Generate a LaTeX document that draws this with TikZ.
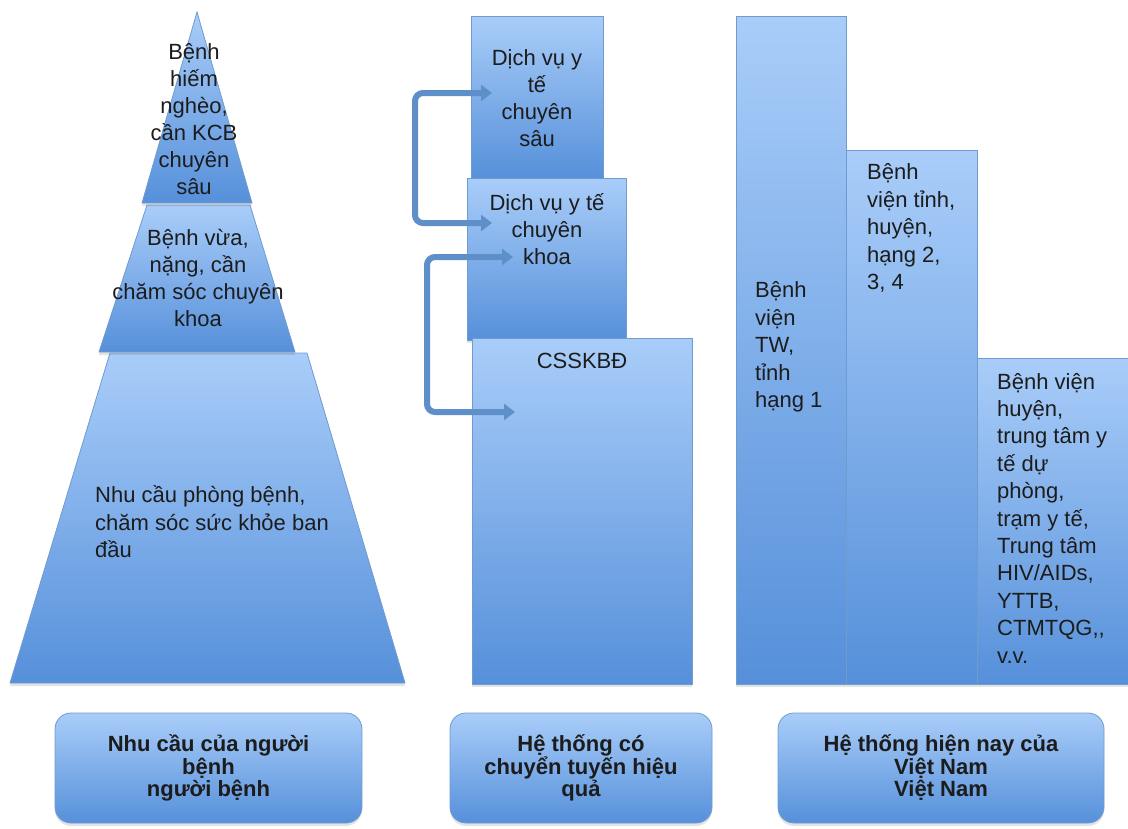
\documentclass[tikz,border=0pt]{standalone}
\usepackage{fontspec}
\setmainfont{Liberation Sans}
\usetikzlibrary{arrows.meta,shadows}
\definecolor{lt}{HTML}{A9CDF9}
\definecolor{dk}{HTML}{5690DA}
\definecolor{edgec}{HTML}{6F9BCF}
\definecolor{txt}{HTML}{1C1C1C}
\definecolor{arr}{HTML}{5E8FC8}
\tikzset{
  shade box/.style={top color=lt, bottom color=dk, draw=edgec, line width=0.8pt,
    drop shadow={opacity=0.22, shadow xshift=0pt, shadow yshift=-3pt}},
  colbox/.style={shade box, inner sep=0pt, outer sep=0pt, anchor=north west},
  capbox/.style={shade box, rounded corners=16pt, inner sep=0pt, outer sep=0pt, anchor=north west},
  lbl/.style={font=\fontsize{22}{27}\selectfont, text=txt, inner sep=0pt, align=center},
  lbll/.style={font=\fontsize{22}{27.4}\selectfont, text=txt, inner sep=0pt, align=left, anchor=west},
  capl/.style={font=\bfseries\fontsize{22}{22.5}\selectfont, text=txt, inner sep=0pt, align=center},
  conn/.style={draw=arr, line width=6pt, rounded corners=8pt,
    {Triangle[length=11pt,width=16pt]}-{Triangle[length=11pt,width=16pt]}}
}
\begin{document}
\begin{tikzpicture}[x=1pt,y=-1pt]
\useasboundingbox (0,0) rectangle (1128,828);
\fill[white] (0,0) rectangle (1128,828);

% ---------- pyramid ----------
\path[shade box] (10,683) -- (110,353) -- (307,353) -- (405,683) -- cycle;
\path[shade box] (99,352) -- (147,205) -- (250,205) -- (295,352) -- cycle;
\path[shade box] (142,203) -- (197,12) -- (252,203) -- cycle;
\node[lbl] (p1) at (194,119) {Bệnh\\hiếm\\nghèo,\\cần KCB\\chuyên\\sâu};
\node[lbl] (p2) at (198,278) {Bệnh vừa,\\nặng, cần\\chăm sóc chuyên\\khoa};
\node[lbll] (p3) at (95,522) {Nhu cầu phòng bệnh,\\chăm sóc sức khỏe ban\\đầu};

% ---------- middle column ----------
\node[colbox, minimum width=132pt, minimum height=162pt] (s1) at (471,16) {};
\node[colbox, minimum width=159pt, minimum height=162pt] (s2) at (467,178) {};
\node[colbox, minimum width=220pt, minimum height=346pt] (s3) at (472,338) {};
\node[lbl] (t1) at (537,98) {Dịch vụ y\\tế\\chuyên\\sâu};
\node[lbl] (t2) at (547,229) {Dịch vụ y tế\\chuyên\\khoa};
\node[lbl] (t3) at (582,361) {CSSKBĐ};

\coordinate (a1s) at (492,93);
\coordinate (a1e) at (492,223);
\coordinate (a2s) at (513,257);
\coordinate (a2e) at (515,412);
\draw[conn] (a1s) -- ++(-77,0) |- (a1e);
\draw[conn] (a2s) -- ++(-86,0) |- (a2e);

% ---------- right column ----------
\node[colbox, minimum width=110pt, minimum height=668pt] (r1) at (736,16) {};
\node[colbox, minimum width=131pt, minimum height=534pt] (r2) at (846,150) {};
\node[colbox, minimum width=152pt, minimum height=326pt] (r3) at (977,358) {};
\node[lbll] (u1) at (755,347) {Bệnh\\viện\\TW,\\tỉnh\\hạng 1};
\node[lbll] (u2) at (867,228) {Bệnh\\viện tỉnh,\\huyện,\\hạng 2,\\3, 4};
\node[lbll] (u3) at (997,518) {Bệnh viện\\huyện,\\trung tâm y\\tế dự\\phòng,\\trạm y tế,\\Trung tâm\\HIV/AIDs,\\YTTB,\\CTMTQG,{},\\v.v.};

% ---------- captions ----------
\node[capbox, minimum width=307pt, minimum height=110pt] (c1) at (55,713) {};
\node[capbox, minimum width=262pt, minimum height=110pt] (c2) at (450,713) {};
\node[capbox, minimum width=326pt, minimum height=110pt] (c3) at (778,713) {};
\node[capl] (k1) at (c1.center) {Nhu cầu của người\\bệnh\\người bệnh};
\node[capl] (k2) at (c2.center) {Hệ thống có\\chuyển tuyến hiệu\\quả};
\node[capl] (k3) at (c3.center) {Hệ thống hiện nay của\\Việt Nam\\Việt Nam};
\end{tikzpicture}
\end{document}
